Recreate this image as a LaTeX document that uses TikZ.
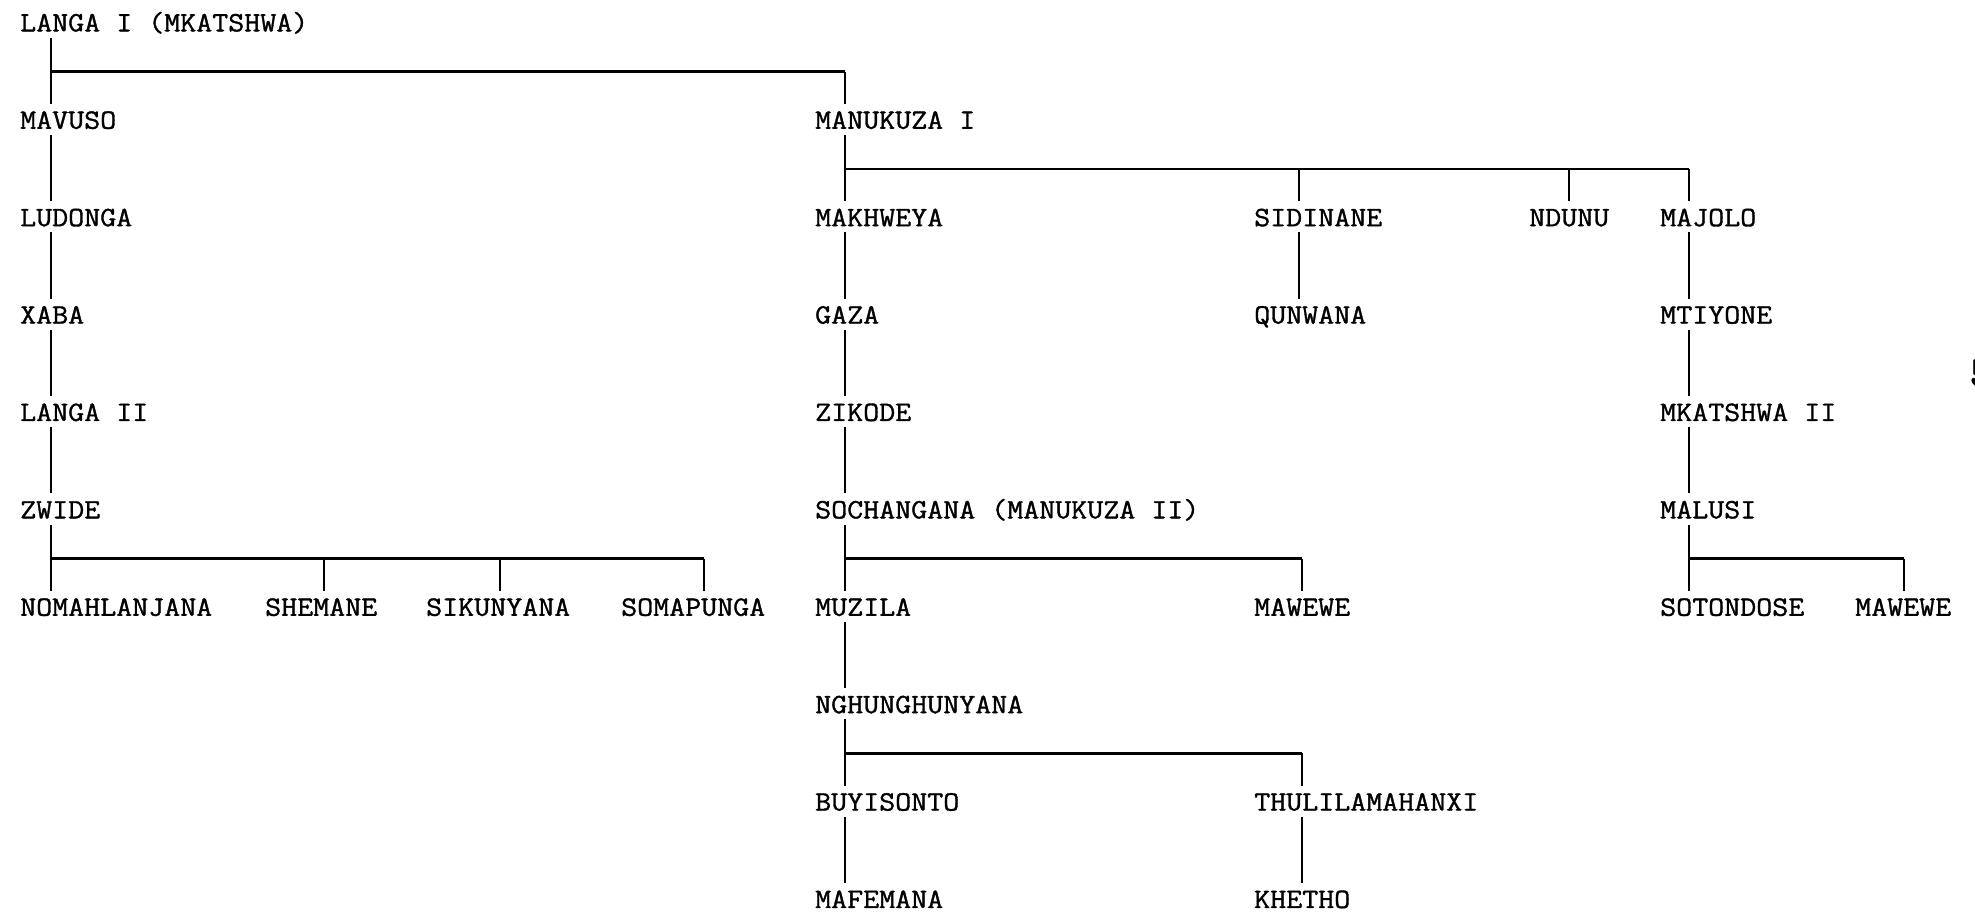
\documentclass[tikz,border=0pt]{standalone}
\usepackage{fontspec}
\setmonofont[FakeStretch=1.11,FakeBold=1.2]{Latin Modern Mono}
\usepackage{tikz}

\begin{document}
\begin{tikzpicture}[x=1pt,y=1pt,
  person/.style={anchor=west,inner sep=0pt,text height=16.7pt,text depth=0pt,font=\ttfamily\fontsize{28}{30}\selectfont},
  stem/.style={draw=black,line width=1.7pt},
  bar/.style={draw=black,line width=2.6pt}]
\useasboundingbox (0,0) rectangle (1975,-911);
\node[person] (langaI) at (20,-23) {LANGA I (MKATSHWA)};
\node[person] (mavuso) at (20,-120.4) {MAVUSO};
\node[person] (ludonga) at (20,-217.8) {LUDONGA};
\node[person] (xaba) at (20,-315.2) {XABA};
\node[person] (langaII) at (20,-412.6) {LANGA II};
\node[person] (zwide) at (20,-510) {ZWIDE};
\node[person] (nomahlanjana) at (20,-607.4) {NOMAHLANJANA};
\node[person] (shemane) at (265,-607.4) {SHEMANE};
\node[person] (sikunyana) at (426,-607.4) {SIKUNYANA};
\node[person] (somapunga) at (621,-607.4) {SOMAPUNGA};
\node[person] (manukuzaI) at (815,-120.4) {MANUKUZA I};
\node[person] (makhweya) at (815,-217.8) {MAKHWEYA};
\node[person] (gaza) at (815,-315.2) {GAZA};
\node[person] (zikode) at (815,-412.6) {ZIKODE};
\node[person] (sochangana) at (815,-510) {SOCHANGANA (MANUKUZA II)};
\node[person] (muzila) at (815,-607.4) {MUZILA};
\node[person] (nghunghunyana) at (815,-704.8) {NGHUNGHUNYANA};
\node[person] (buyisonto) at (815,-802.2) {BUYISONTO};
\node[person] (mafemana) at (815,-899.6) {MAFEMANA};
\node[person] (sidinane) at (1254,-217.8) {SIDINANE};
\node[person] (qunwana) at (1254,-315.2) {QUNWANA};
\node[person] (mawewe) at (1254,-607.4) {MAWEWE};
\node[person] (thulilamahanxi) at (1254,-802.2) {THULILAMAHANXI};
\node[person] (khetho) at (1254,-899.6) {KHETHO};
\node[person] (ndunu) at (1529,-217.8) {NDUNU};
\node[person] (majolo) at (1660,-217.8) {MAJOLO};
\node[person] (mtiyone) at (1660,-315.2) {MTIYONE};
\node[person] (mkatshwaII) at (1660,-412.6) {MKATSHWA II};
\node[person] (malusi) at (1660,-510) {MALUSI};
\node[person] (sotondose) at (1660,-607.4) {SOTONDOSE};
\node[person] (maweweb) at (1855,-607.4) {MAWEWE};
\node[person,font=\ttfamily\fontsize{44}{48}\selectfont] (page) at (1969,-378) {5};

% top and bottom ends of the lines at each name
\foreach \n/\o in {langaI/31,mavuso/31,ludonga/31,xaba/31,langaII/31,zwide/31,nomahlanjana/31,
    shemane/59,sikunyana/74,somapunga/83,manukuzaI/30,makhweya/30,gaza/30,zikode/30,sochangana/30,
    muzila/30,nghunghunyana/30,buyisonto/30,mafemana/30,sidinane/45,qunwana/45,mawewe/48,
    thulilamahanxi/48,khetho/48,ndunu/40,majolo/29,mtiyone/29,mkatshwaII/29,malusi/29,sotondose/29,maweweb/49}
  {\coordinate (t\n) at ([xshift=\o pt,yshift=8pt]\n.north west);
   \coordinate (b\n) at ([xshift=\o pt,yshift=-6pt]\n.south west);}

% straight lines
\foreach \a/\b in {langaI/mavuso,mavuso/ludonga,ludonga/xaba,xaba/langaII,langaII/zwide,zwide/nomahlanjana,
    manukuzaI/makhweya,makhweya/gaza,gaza/zikode,zikode/sochangana,sochangana/muzila,muzila/nghunghunyana,
    nghunghunyana/buyisonto,buyisonto/mafemana,sidinane/qunwana,thulilamahanxi/khetho,
    majolo/mtiyone,mtiyone/mkatshwaII,mkatshwaII/malusi,malusi/sotondose}
  \path[stem] (b\a) edge (t\b);

% bars
\foreach \p/\l in {langaI/manukuzaI,manukuzaI/majolo,zwide/somapunga,sochangana/mawewe,nghunghunyana/thulilamahanxi,malusi/maweweb}
  {\coordinate (bar\p) at ([yshift=-34pt]b\p);
   \path[bar] (bar\p) edge (bar\p -| t\l);}

% ticks down from the bars
\foreach \p/\c in {langaI/manukuzaI,manukuzaI/sidinane,manukuzaI/ndunu,manukuzaI/majolo,zwide/shemane,
    zwide/sikunyana,zwide/somapunga,sochangana/mawewe,nghunghunyana/thulilamahanxi,malusi/maweweb}
  \path[stem] (bar\p -| t\c) edge (t\c);
\end{tikzpicture}
\end{document}
